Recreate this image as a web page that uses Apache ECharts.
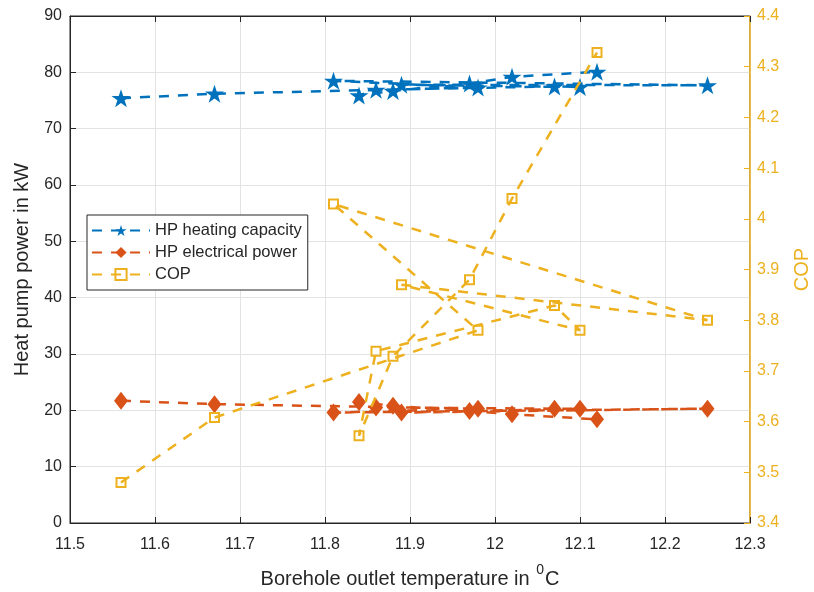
<!DOCTYPE html>
<html>
<head>
<meta charset="utf-8">
<script src="https://cdn.jsdelivr.net/npm/echarts@6/dist/echarts.min.js"></script>
<style>
html,body{margin:0;padding:0;background:#fff;}
#chart{width:814px;height:592px;}
</style>
</head>
<body>
<div id="chart"></div>
<script>
// Data in measurement order (the lines connect points in this order)
const temps = [11.56, 11.67, 11.98, 11.81, 12.25, 11.89, 12.10, 12.07, 11.86, 11.84, 11.88, 11.97, 12.02, 12.12];
const heatingCapacity = [75.4, 76.2, 77.3, 78.5, 77.7, 77.8, 77.4, 77.5, 76.9, 75.9, 76.7, 78.0, 79.2, 80.1];
const electricalPower = [21.7, 21.1, 20.3, 19.6, 20.3, 19.6, 20.3, 20.3, 20.5, 21.5, 20.8, 19.9, 19.3, 18.4];
const cop = [3.480, 3.608, 3.780, 4.029, 3.800, 3.870, 3.780, 3.829, 3.739, 3.572, 3.729, 3.880, 4.040, 4.328];
const seriesNames = ['HP heating capacity', 'HP electrical power', 'COP'];

const BLUE = '#0072BD', ORANGE = '#D95319', YELLOW = '#EDB120', AX = '#262626', GRIDC = '#e3e3e3';
const FONT = 'Liberation Sans';
const starPath = 'path://M0,-1L0.2245,-0.309L0.951,-0.309L0.363,0.118L0.588,0.809L0,0.382L-0.588,0.809L-0.363,0.118L-0.951,-0.309L-0.2245,-0.309Z';

const pairs = (ys) => temps.map((t, i) => [t, ys[i]]);
const dash = [10, 9];

const chart = echarts.init(document.getElementById('chart'), null, {renderer: 'canvas'});
chart.setOption({
  animation: false,
  backgroundColor: '#fff',
  textStyle: {fontFamily: FONT},
  grid: {left: 70, right: 64, top: 16, bottom: 69, containLabel: false, outerBoundsMode: 'none',
         show: true, borderColor: AX, borderWidth: 1, backgroundColor: 'transparent'},
  legend: {
    left: 87, top: 215, orient: 'vertical',
    padding: [7, 6, 7, 4], itemGap: 5, itemWidth: 58, itemHeight: 14,
    backgroundColor: '#fff', borderColor: AX, borderWidth: 1, borderRadius: 0,
    textStyle: {fontFamily: FONT, fontSize: 16.5, color: AX},
    data: seriesNames
  },
  xAxis: [{
    type: 'value', min: 11.5, max: 12.3, interval: 0.1,
    name: '{a|Borehole outlet temperature in }{s|0}{a|C}',
    nameLocation: 'middle', nameGap: 40,
    nameTextStyle: {rich: {
      a: {fontFamily: FONT, fontSize: 20, color: AX, verticalAlign: 'bottom', lineHeight: 26},
      s: {fontFamily: FONT, fontSize: 14, color: AX, verticalAlign: 'top', lineHeight: 26, padding: [0, 1, 12, 1]}
    }},
    axisLine: {show: true, lineStyle: {color: AX, width: 1}},
    axisTick: {show: true, inside: true, length: 6, lineStyle: {color: AX}},
    axisLabel: {fontFamily: FONT, fontSize: 16, color: AX, margin: 14},
    splitLine: {show: true, lineStyle: {color: GRIDC, width: 1}}
  }, {
    type: 'value', position: 'top', min: 11.5, max: 12.3, interval: 0.1,
    axisLine: {show: true, lineStyle: {color: AX}},
    axisTick: {show: true, inside: true, length: 6, lineStyle: {color: AX}},
    axisLabel: {show: false}, splitLine: {show: false}
  }],
  yAxis: [{
    type: 'value', min: 0, max: 90, interval: 10, position: 'left',
    name: 'Heat pump power in kW', nameLocation: 'middle', nameGap: 38, nameRotate: 90,
    nameTextStyle: {fontFamily: FONT, fontSize: 20, color: AX},
    axisLine: {show: true, lineStyle: {color: AX, width: 1}},
    axisTick: {show: true, inside: true, length: 6, lineStyle: {color: AX}},
    axisLabel: {fontFamily: FONT, fontSize: 16, color: AX, margin: 8},
    splitLine: {show: true, lineStyle: {color: GRIDC, width: 1}}
  }, {
    type: 'value', min: 3.4, max: 4.4, interval: 0.1, position: 'right',
    name: 'COP', nameLocation: 'middle', nameGap: 42, nameRotate: 90,
    nameTextStyle: {fontFamily: FONT, fontSize: 20, color: YELLOW},
    axisLine: {show: true, lineStyle: {color: YELLOW, width: 1.5}},
    axisTick: {show: true, inside: true, length: 6, lineStyle: {color: YELLOW}},
    axisLabel: {fontFamily: FONT, fontSize: 16, color: YELLOW, margin: 7},
    splitLine: {show: false}
  }],
  series: [{
    name: seriesNames[0], type: 'line', xAxisIndex: 0, yAxisIndex: 0,
    data: pairs(heatingCapacity),
    symbol: starPath, symbolSize: [19, 18],
    lineStyle: {color: BLUE, width: 2.5, type: dash},
    itemStyle: {color: BLUE, borderWidth: 0}, z: 2
  }, {
    name: seriesNames[1], type: 'line', xAxisIndex: 0, yAxisIndex: 0,
    data: pairs(electricalPower),
    symbol: 'diamond', symbolSize: [14, 18],
    lineStyle: {color: ORANGE, width: 2.5, type: dash},
    itemStyle: {color: ORANGE, borderWidth: 0}, z: 3
  }, {
    name: seriesNames[2], type: 'line', xAxisIndex: 0, yAxisIndex: 1,
    data: pairs(cop),
    symbol: 'rect', symbolSize: 9, showAllSymbol: true,
    lineStyle: {color: YELLOW, width: 2.5, type: dash},
    itemStyle: {color: 'rgba(255,255,255,0)', borderColor: YELLOW, borderWidth: 2}, z: 4
  }]
});
</script>
</body>
</html>
